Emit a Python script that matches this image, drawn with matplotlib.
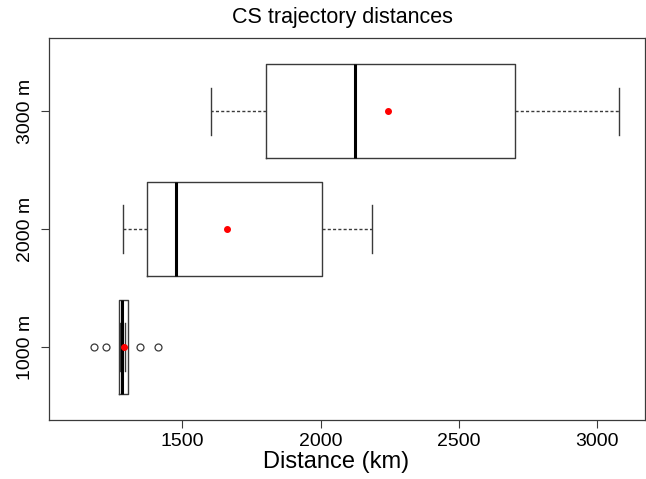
import numpy as np
import matplotlib.pyplot as plt

plt.rcParams['font.family'] = ['Liberation Sans', 'DejaVu Sans']

# values (km)
groups = ['1000 m', '2000 m', '3000 m']
q1 = [1272, 1373, 1802]
med = [1281, 1478, 2123]
q3 = [1302, 2006, 2702]
whislo = [1274, 1283, 1603]
whishi = [1292, 2185, 3079]
means = [1287, 1662, 2243]
fliers = [[1181, 1223, 1346, 1413], [], []]
xticks = [1500, 2000, 2500, 3000]

stats = []
for i in range(len(groups)):
    stats.append(dict(label=groups[i], q1=q1[i], med=med[i], q3=q3[i],
                      whislo=whislo[i], whishi=whishi[i], mean=means[i],
                      fliers=fliers[i]))

fig = plt.figure(figsize=(6.46, 4.79), dpi=100)
ax = fig.add_axes([0.0759, 0.123, 0.9225, 0.7977])

lc = '#3a3a3a'
ax.bxp(stats, positions=[1, 2, 3], orientation='horizontal', widths=0.8,
       showmeans=True,
       boxprops=dict(color=lc, linewidth=1.0),
       medianprops=dict(color='black', linewidth=2.2),
       whiskerprops=dict(color=lc, linewidth=1.0, linestyle=(0, (2.2, 1.6))),
       capprops=dict(color=lc, linewidth=1.0),
       capwidths=0.4,
       flierprops=dict(marker='o', markerfacecolor='none', markeredgecolor=lc,
                       markersize=5, markeredgewidth=0.9),
       meanprops=dict(marker='o', markerfacecolor='red', markeredgecolor='red',
                      markersize=4))

ax.set_xlim(1017, 3174)
ax.set_ylim(0.38, 3.62)
ax.set_xticks(xticks)
ax.set_xticklabels([str(t) for t in xticks], fontsize=14)
ax.set_yticks([1, 2, 3])
ax.set_yticklabels(groups, fontsize=14, rotation=90, va='center')
ax.tick_params(axis='both', length=6, width=0.8, color=lc)
ax.tick_params(axis='x', pad=3)
ax.tick_params(axis='y', pad=5)
for s in ax.spines.values():
    s.set_color(lc)
    s.set_linewidth(0.9)

ax.set_xlabel('Distance (km)', fontsize=17, labelpad=1, x=0.481)
ax.set_title('CS trajectory distances', fontsize=15.5, pad=11, x=0.493)

fig.savefig('out.png', dpi=100)
